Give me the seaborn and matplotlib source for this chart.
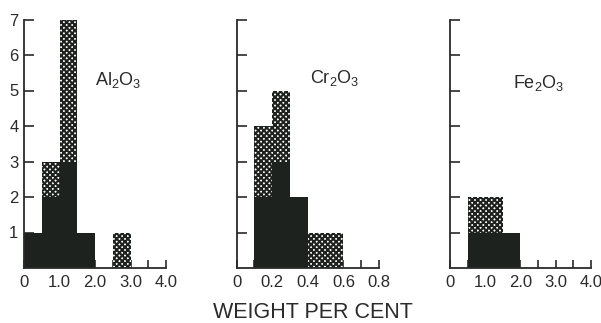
import numpy as np
import pandas as pd
import matplotlib
matplotlib.use("Agg")
import matplotlib.pyplot as plt
from matplotlib import font_manager as fm
import seaborn as sns

sns.set_style("white")
_names = {f.name for f in fm.fontManager.ttflist}
FONT = "Liberation Sans Narrow" if "Liberation Sans Narrow" in _names else "Liberation Sans"
plt.rcParams['font.family'] = [FONT, 'DejaVu Sans']
plt.rcParams['mathtext.fontset'] = 'custom'
plt.rcParams['mathtext.rm'] = FONT
plt.rcParams['mathtext.it'] = FONT
plt.rcParams['hatch.linewidth'] = 1.5

# ---- data: counts per bin (solid = lower part, hatched = upper part) ----
al_solid_x = [0.25, 0.75, 1.25, 1.75]
al_solid_n = [1, 2, 3, 1]
al_hatch_x = [0.75, 1.25, 2.75]
al_hatch_n = [1, 4, 1]

cr_solid_x = [0.15, 0.25, 0.35]
cr_solid_n = [2, 3, 2]
cr_hatch_x = [0.15, 0.25, 0.45, 0.55]
cr_hatch_n = [2, 2, 1, 1]

fe_solid_x = [0.75, 1.25, 1.75]
fe_solid_n = [1, 1, 1]
fe_hatch_x = [0.75, 1.25]
fe_hatch_n = [1, 1]

labels = ["Al$_\\mathrm{2}$O$_\\mathrm{3}$", "Cr$_\\mathrm{2}$O$_\\mathrm{3}$", "Fe$_\\mathrm{2}$O$_\\mathrm{3}$"]
xticks_al = [0, 1, 2, 3, 4]
xlabels_al = ["0", "1.0", "2.0", "3.0", "4.0"]
xticks_cr = [0, 0.2, 0.4, 0.6, 0.8]
xlabels_cr = ["0", "0.2", "0.4", "0.6", "0.8"]
yticks = [1, 2, 3, 4, 5, 6, 7]
xlabel = "WEIGHT PER CENT"

DARK = "#1d221f"
INK = "#2a2a2a"

def frame(sx, sn, hx, hn):
    return pd.DataFrame({
        "x": list(sx) + list(hx),
        "n": list(sn) + list(hn),
        "kind": ["solid"] * len(sx) + ["hatched"] * len(hx),
    })

panels = [
    (frame(al_solid_x, al_solid_n, al_hatch_x, al_hatch_n), (0, 4), xticks_al, xlabels_al, 0.5, (2.0, 5.3)),
    (frame(cr_solid_x, cr_solid_n, cr_hatch_x, cr_hatch_n), (0, 0.8), xticks_cr, xlabels_cr, 0.1, (0.41, 5.35)),
    (frame(fe_solid_x, fe_solid_n, fe_hatch_x, fe_hatch_n), (0, 4), xticks_al, xlabels_al, 0.5, (1.79, 5.2)),
]

fig = plt.figure(figsize=(6.01, 3.23), dpi=100)
lefts = [24 / 601, 236.7 / 601, 450 / 601]
widths = [142 / 601, 142.3 / 601, 140.7 / 601]
bottom = 1 - 268 / 323
height = (268 - 19.5) / 323

for i, (df, xlim, xt, xl, minor, tpos) in enumerate(panels):
    ax = fig.add_axes([lefts[i], bottom, widths[i], height])
    sns.histplot(data=df, x="x", weights="n", hue="kind", hue_order=["hatched", "solid"],
                 binwidth=minor, binrange=xlim, multiple="stack", element="bars", fill=True,
                 palette={"solid": DARK, "hatched": "white"}, alpha=1,
                 linewidth=0, legend=False, ax=ax)
    for p in ax.patches:
        fc = p.get_facecolor()
        p.set_antialiased(False)
        if fc[0] > 0.5:
            p.set_hatch("xxxxxx")
            p.set_edgecolor(DARK)
            p.set_linewidth(0)
    ax.set_xlim(*xlim)
    ax.set_ylim(0, 7)
    ax.set_axisbelow(True)
    ax.set_xticks(xt)
    ax.set_xticks(np.arange(xlim[0], xlim[1] + 1e-9, minor), minor=True)
    ax.set_xticklabels(xl)
    ax.set_yticks(yticks)
    if i == 0:
        ax.set_yticklabels([str(v) for v in yticks])
    else:
        ax.set_yticklabels([])
    ax.tick_params(axis="both", which="both", direction="in", color=INK, width=1.2,
                   labelsize=12, labelcolor=INK, bottom=True, left=True)
    ax.tick_params(axis="x", which="both", length=6, pad=5)
    ax.tick_params(axis="y", length=7, pad=4)
    ax.set_xlabel("")
    ax.set_ylabel("")
    for s in ["top", "right"]:
        ax.spines[s].set_visible(False)
    for s in ["left", "bottom"]:
        ax.spines[s].set_color(INK)
        ax.spines[s].set_linewidth(1.3)
    ax.text(tpos[0], tpos[1], labels[i], fontsize=13, color=INK, ha="left", va="center")

fig.text(0.521, 0.034, xlabel, fontsize=15.5, color=INK, ha="center", va="center")
fig.savefig("out.png", dpi=100)
